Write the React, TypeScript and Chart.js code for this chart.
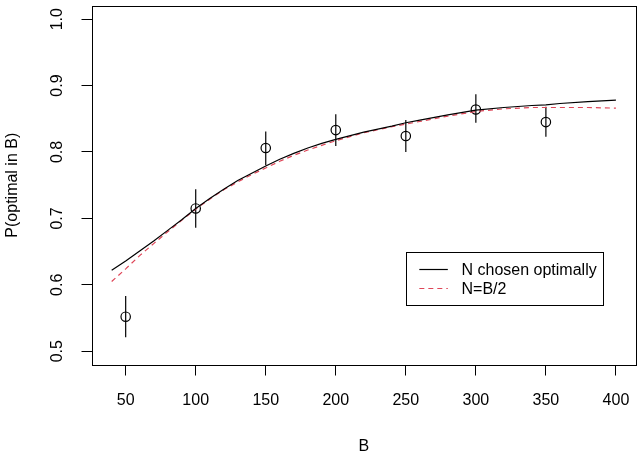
import React, { useEffect, useRef } from "react";
import { Chart, registerables } from "chart.js";

Chart.register(...registerables);

// Observed estimates with error bars
const obsB = [50, 100, 150, 200, 250, 300, 350];
const obsP = [0.552, 0.715, 0.806, 0.833, 0.824, 0.864, 0.845];
const obsLo = [0.521, 0.686, 0.780, 0.809, 0.800, 0.844, 0.823];
const obsHi = [0.583, 0.744, 0.831, 0.857, 0.848, 0.887, 0.868];

// Fitted curves
const curveB = [40, 50, 60, 70, 80, 90, 100, 110, 120, 130, 140, 150, 160, 170, 180, 190, 200, 220, 240, 250, 260, 280, 300, 320, 340, 350, 360, 380, 400];
const curveOptimal = [0.622, 0.636, 0.651, 0.666, 0.682, 0.698, 0.715, 0.730, 0.744, 0.757, 0.768, 0.779, 0.789, 0.798, 0.806, 0.813, 0.819, 0.830, 0.839, 0.844, 0.848, 0.856, 0.863, 0.867, 0.870, 0.871, 0.873, 0.876, 0.878];
const curveHalf = [0.605, 0.624, 0.644, 0.662, 0.680, 0.697, 0.714, 0.729, 0.743, 0.755, 0.766, 0.776, 0.786, 0.795, 0.803, 0.810, 0.817, 0.829, 0.838, 0.842, 0.846, 0.854, 0.861, 0.865, 0.867, 0.867, 0.867, 0.867, 0.866];

const xTicks = [50, 100, 150, 200, 250, 300, 350, 400];
const yTicks = [0.5, 0.6, 0.7, 0.8, 0.9, 1.0];
const yTickLabels = ["0.5", "0.6", "0.7", "0.8", "0.9", "1.0"];

const seriesLabels = ["N chosen optimally", "N=B/2"];
const legendAnchor = { x: 250, y: 0.65 };

const RED = "#DF4658";
const FONT = "'Liberation Sans', Arial, sans-serif";

const framePlugin = {
  id: "rframe",
  afterDraw(chart: any) {
    const { ctx, chartArea, scales } = chart;
    const ys = scales.y;
    const xs = scales.x;
    ctx.save();
    // box
    ctx.strokeStyle = "#000";
    ctx.lineWidth = 1;
    ctx.strokeRect(
      Math.round(chartArea.left) + 0.5,
      Math.round(chartArea.top) + 0.5,
      Math.round(chartArea.right - chartArea.left) - 1,
      Math.round(chartArea.bottom - chartArea.top)
    );
    // rotated y tick labels
    ctx.fillStyle = "#000";
    ctx.font = `16px ${FONT}`;
    ctx.textAlign = "center";
    ctx.textBaseline = "middle";
    yTicks.forEach((v, i) => {
      const py = ys.getPixelForValue(v);
      ctx.save();
      ctx.translate(57.5, py);
      ctx.rotate(-Math.PI / 2);
      ctx.fillText(yTickLabels[i], 0, 0);
      ctx.restore();
    });
    // legend
    const lx = xs.getPixelForValue(legendAnchor.x);
    const ly = ys.getPixelForValue(legendAnchor.y);
    const w = 197;
    const h = 53;
    ctx.strokeStyle = "#000";
    ctx.lineWidth = 1;
    ctx.strokeRect(Math.round(lx) + 0.5, Math.round(ly) + 0.5, w, h);
    const rows = [ly + 17.5, ly + 36.5];
    ctx.textAlign = "left";
    rows.forEach((ry, i) => {
      ctx.beginPath();
      ctx.strokeStyle = i === 0 ? "#000" : RED;
      ctx.lineWidth = 1.2;
      ctx.setLineDash(i === 0 ? [] : [5, 4]);
      ctx.moveTo(lx + 13.5, Math.round(ry) + 0.5);
      ctx.lineTo(lx + 42, Math.round(ry) + 0.5);
      ctx.stroke();
      ctx.setLineDash([]);
      ctx.fillStyle = "#000";
      ctx.fillText(seriesLabels[i], lx + 55.7, ry + 1.5);
    });
    ctx.restore();
  },
};

const zeroPad = (s: any) => {
  s.paddingLeft = 0;
  s.paddingRight = 0;
  s.paddingTop = 0;
  s.paddingBottom = 0;
};

export default function App() {
  const ref = useRef<HTMLCanvasElement | null>(null);

  useEffect(() => {
    if (!ref.current) return;
    const errData: any[] = [];
    obsB.forEach((b, i) => {
      errData.push({ x: b, y: obsLo[i] });
      errData.push({ x: b, y: obsHi[i] });
      errData.push({ x: b, y: null });
    });
    const chart = new Chart(ref.current, {
      type: "line",
      data: {
        datasets: [
          {
            label: seriesLabels[0],
            data: curveB.map((b, i) => ({ x: b, y: curveOptimal[i] })),
            borderColor: "#000",
            borderWidth: 1.2,
            pointRadius: 0,
            tension: 0,
          },
          {
            label: seriesLabels[1],
            data: curveB.map((b, i) => ({ x: b, y: curveHalf[i] })),
            borderColor: RED,
            borderWidth: 1.2,
            borderDash: [5, 4],
            pointRadius: 0,
            tension: 0,
          },
          {
            label: "errors",
            data: errData,
            borderColor: "#000",
            borderWidth: 1.2,
            pointRadius: 0,
            spanGaps: false,
          },
          {
            label: "estimates",
            data: obsB.map((b, i) => ({ x: b, y: obsP[i] })),
            showLine: false,
            pointStyle: "circle",
            pointRadius: 4.7,
            pointBorderWidth: 1.2,
            pointBorderColor: "#000",
            pointBackgroundColor: "rgba(0,0,0,0)",
            borderColor: "#000",
            backgroundColor: "rgba(0,0,0,0)",
          },
        ],
      },
      options: {
        animation: false,
        responsive: false,
        devicePixelRatio: 1,
        layout: { padding: { top: 3.5, right: 5.5, left: 0, bottom: 0 } },
        plugins: {
          legend: { display: false },
          tooltip: { enabled: false },
          title: { display: false },
        },
        scales: {
          x: {
            type: "linear",
            min: 25.6,
            max: 414.4,
            afterFit: (s: any) => {
              s.height = 93.5;
              zeroPad(s);
            },
            afterBuildTicks: (s: any) => {
              s.ticks = xTicks.map((v) => ({ value: v }));
            },
            grid: {
              display: true,
              drawOnChartArea: false,
              drawTicks: true,
              tickLength: 11,
              color: "#000",
              lineWidth: 1,
            },
            border: { display: false },
            ticks: {
              color: "#000",
              font: { family: FONT, size: 16 },
              padding: 15.5,
              maxRotation: 0,
              autoSkip: false,
              callback: (v: any) => String(v),
            },
            title: {
              display: true,
              text: "B",
              color: "#000",
              font: { family: FONT, size: 16 },
              padding: { top: 0, bottom: 1.4 },
            },
          },
          y: {
            type: "linear",
            min: 0.48,
            max: 1.02,
            afterFit: (s: any) => {
              s.width = 91.5;
              zeroPad(s);
            },
            afterBuildTicks: (s: any) => {
              s.ticks = yTicks.map((v) => ({ value: v }));
            },
            grid: {
              display: true,
              drawOnChartArea: false,
              drawTicks: true,
              tickLength: 10,
              color: "#000",
              lineWidth: 1,
            },
            border: { display: false },
            ticks: {
              color: "rgba(0,0,0,0)",
              font: { family: FONT, size: 4 },
              padding: 0,
            },
            title: {
              display: true,
              text: "P(optimal in B)",
              color: "#000",
              font: { family: FONT, size: 16 },
              padding: { top: 3.2, bottom: 0 },
            },
          },
        },
      },
      plugins: [framePlugin],
    });
    return () => chart.destroy();
  }, []);

  return (
    <div style={{ position: "fixed", left: 0, top: 0, width: 642, height: 458, background: "#fff" }}>
      <canvas ref={ref} width={642} height={458} style={{ width: 642, height: 458 }} />
    </div>
  );
}
